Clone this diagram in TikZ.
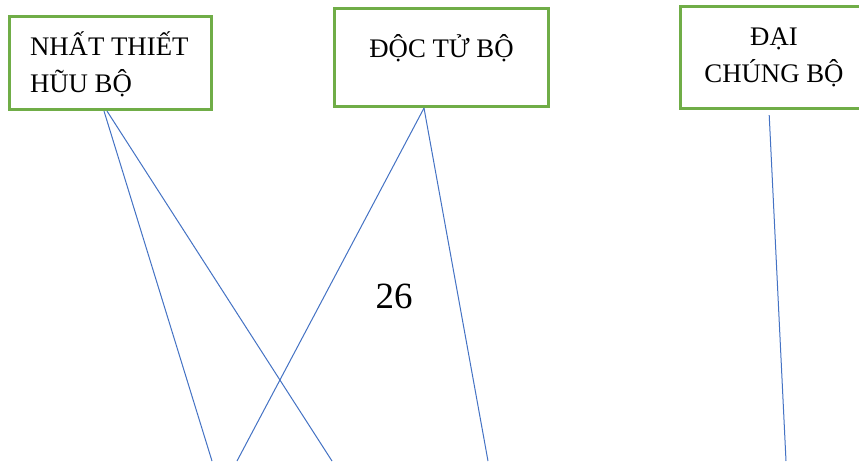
\documentclass[tikz,border=0pt]{standalone}
\usepackage{fontspec}
\setmainfont{Liberation Serif}
\definecolor{boxgreen}{HTML}{70AD47}
\definecolor{lineblue}{HTML}{4472C4}
\tikzset{
  boxframe/.style={draw=boxgreen, line width=3pt, rectangle, inner sep=0pt, outer sep=0pt},
  boxtext/.style={inner sep=0pt, outer sep=0pt, font=\fontsize{26.8}{37}\selectfont},
  link/.style={draw=lineblue, line width=1pt}
}
\begin{document}
\begin{tikzpicture}[x=1pt,y=-1pt]
\useasboundingbox (0,0) rectangle (859,461);
\clip (0,0) rectangle (859,461);
\fill[white] (0,0) rectangle (859,461);
% boxes
\node[boxframe, minimum width=202pt, minimum height=92.5pt] (box1) at (110.5,62.8) {};
\node[boxframe, minimum width=214pt, minimum height=97.5pt] (box2) at (441.5,57.3) {};
\node[boxframe, minimum width=187.5pt, minimum height=101.5pt] (box3) at (774.2,57.3) {};
% texts
\node[boxtext, anchor=base west] (t1a) at (30,55) {NHẤT THIẾT};
\node[boxtext, anchor=base west] (t1b) at (30,92) {HŨU BỘ};
\node[boxtext, anchor=base] (t2) at (441.5,57) {ĐỘC TỬ BỘ};
\node[boxtext, anchor=base] (t3a) at (774,45) {ĐẠI};
\node[boxtext, anchor=base] (t3b) at (774,82) {CHÚNG BỘ};
\node[inner sep=0pt, font=\fontsize{37}{44}\selectfont, anchor=base] (num) at (394,308) {26};
% free ends
\coordinate (e1) at (212,461);
\coordinate (e2) at (332,461);
\coordinate (e3) at (237,461);
\coordinate (e4) at (488,461);
\coordinate (e5) at (786,461);
% connectors
\draw[link] ([xshift=-6.5pt,yshift=-2pt]box1.south) -- (e1);
\draw[link] ([xshift=-3.5pt,yshift=-2pt]box1.south) -- (e2);
\draw[link] ([xshift=-17.5pt,yshift=-2pt]box2.south) -- (e3);
\draw[link] ([xshift=-17.5pt,yshift=-2pt]box2.south) -- (e4);
\draw[link] ([xshift=-5pt,yshift=-7pt]box3.south) -- (e5);
\end{tikzpicture}
\end{document}
